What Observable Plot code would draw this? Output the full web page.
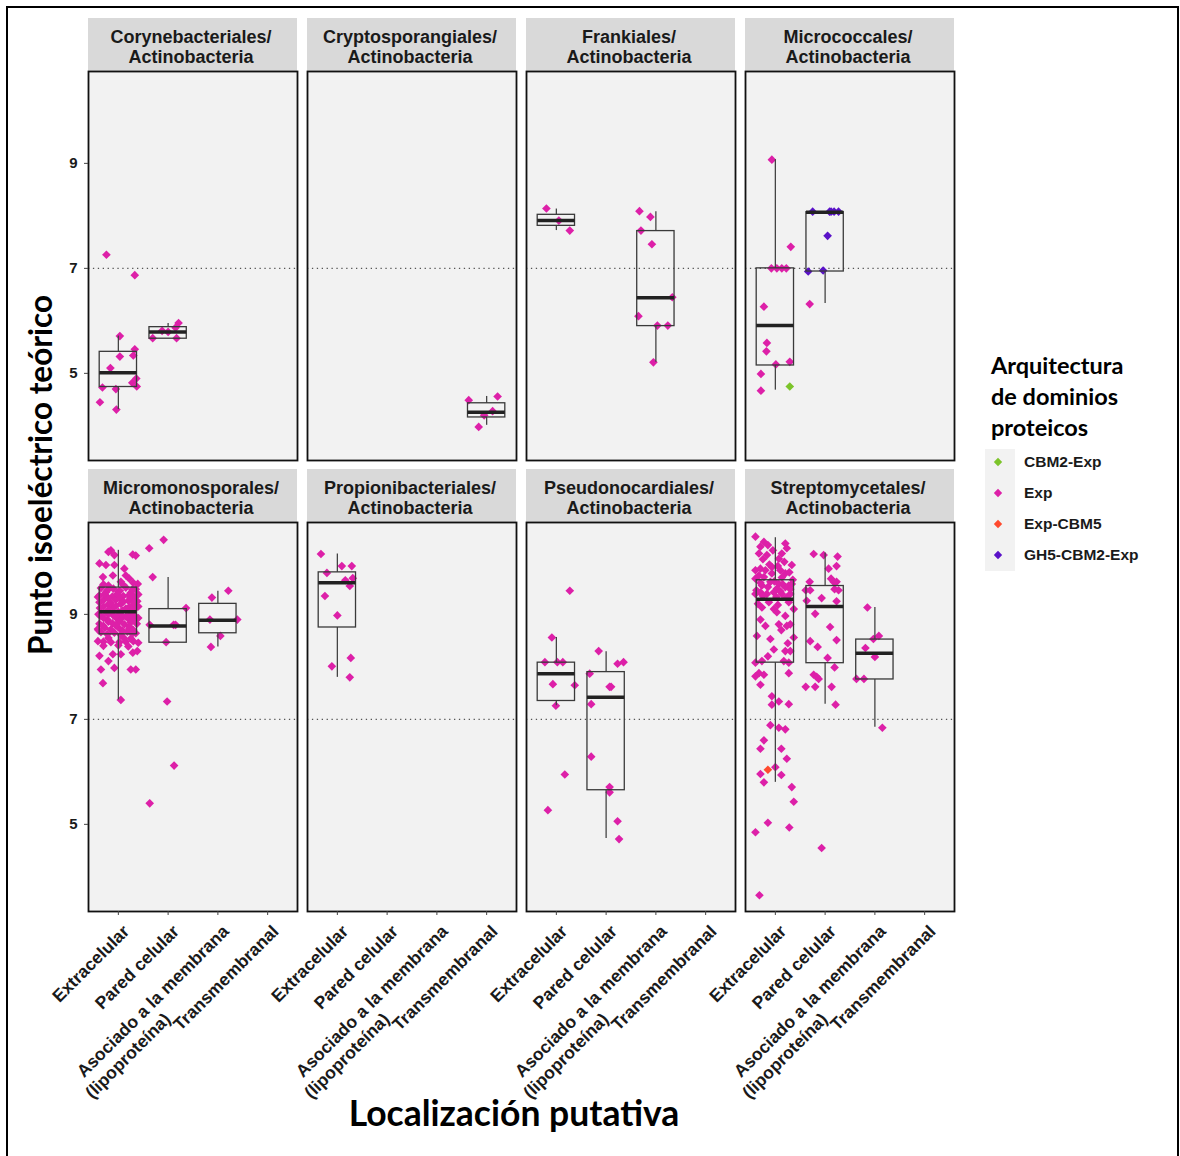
<!DOCTYPE html>
<html><head><meta charset="utf-8">
<script src="https://cdn.jsdelivr.net/npm/d3@7"></script>
<script src="https://cdn.jsdelivr.net/npm/@observablehq/plot@0.6"></script>
<style>
body{margin:0;background:#fff;}
#wrap{position:relative;width:1180px;height:1156px;overflow:hidden;background:#fff;}
#chart{position:absolute;left:0;top:0;}
#frame{position:absolute;left:6px;top:6px;width:1173px;height:1170px;border:2px solid #000;box-sizing:border-box;pointer-events:none;}
.ttl{position:absolute;font-family:Lato,'Open Sans',sans-serif;font-weight:bold;color:#000;white-space:nowrap;}
#ytitle{left:40px;top:475px;font-size:31.5px;transform:translate(-50%,-50%) rotate(-90deg);}
#xtitle{left:514px;top:1112px;font-size:35.5px;transform:translate(-50%,-50%);}
#legtitle{left:991px;top:350px;font-size:23.5px;line-height:31px;}
#legkeys{position:absolute;left:985px;top:449px;width:30px;height:122px;background:#f2f2f2;}
.legitem{position:absolute;left:1024px;font-family:'Liberation Sans',Arial,sans-serif;font-weight:bold;font-size:15.5px;color:#1a1a1a;transform:translateY(-50%);white-space:nowrap;}
.legsym{position:absolute;left:993px;}
</style></head>
<body><div id="wrap"><div id="chart"></div>
<div id="ytitle" class="ttl">Punto isoeléctrico teórico</div>
<div id="xtitle" class="ttl">Localización putativa</div>
<div id="legtitle" class="ttl">Arquitectura<br>de dominios<br>proteicos</div>
<div id="legkeys"></div>
<div id="legend"></div>
<div id="frame"></div>
</div>
<script>
// ---------------- data ----------------
const orders = ["Corynebacteriales","Cryptosporangiales","Frankiales","Micrococcales",
                "Micromonosporales","Propionibacteriales","Pseudonocardiales","Streptomycetales"];
const phylum = "Actinobacteria";
const locations = ["Extracelular","Pared celular","Asociado a la membrana\n(lipoproteína)","Transmembranal"];
const architectures = ["CBM2-Exp","Exp","Exp-CBM5","GH5-CBM2-Exp"];
const archColors = ["#7cc42a","#dd20a8","#ff4a2e","#5a12c8"];
const yTicks = [5, 7, 9];
const neutralPI = 7;

// points: [location index (1-4), pI, jitter offset, architecture index (default 1 = Exp)]
const ptsCorynebacteriales = [
  [1,7.26,-0.24],[1,6.87,0.33],[1,5.71,0.03],[1,5.46,0.33],[1,5.32,0.03],[1,5.34,0.30],[1,5.10,-0.16],
  [1,4.73,-0.32],[1,4.70,-0.05],[1,4.90,0.36],[1,4.82,0.28],[1,4.75,0.37],[1,4.45,-0.37],[1,4.31,-0.04],
  [2,5.67,-0.31],[2,5.81,-0.12],[2,5.87,0.15],[2,5.96,0.21],[2,5.67,0.17],[2,5.79,0.0]
];
const ptsCryptosporangiales = [
  [4,4.49,-0.36],[4,4.56,0.22],[4,4.28,0.12],[4,3.98,-0.16],[4,4.20,-0.05]
];
const ptsFrankiales = [
  [1,8.14,-0.2],[1,7.72,0.27],[1,7.91,0.05],
  [3,8.09,-0.33],[3,7.98,-0.11],[3,7.72,-0.3],[3,7.46,-0.08],[3,6.45,0.33],[3,6.09,-0.35],
  [3,5.91,0.03],[3,5.91,0.24],[3,5.21,-0.05]
];
const ptsMicrococcales = [
  [1,9.07,-0.07],[1,7.41,0.31],[1,7.0,-0.08],[1,7.0,0.03],[1,7.0,0.13],[1,7.0,0.22],[1,6.27,-0.23],
  [1,5.58,-0.17],[1,5.42,-0.18],[1,5.17,0.01],[1,5.22,0.29],[1,4.99,-0.29],[1,4.67,-0.29],[1,4.75,0.29,0],
  [2,8.08,-0.25,3],[2,8.08,0.09,3],[2,8.08,0.12,3],[2,8.08,0.18,3],[2,8.08,0.27,3],[2,7.62,0.05,3],
  [2,6.94,-0.34,3],[2,6.96,-0.04,3],[2,6.32,-0.31]
];
const ptsMicromonosporales = [
  [1,10.22,-0.15],[1,10.19,-0.2],[1,10.13,-0.08],[1,9.97,-0.38],[1,9.94,-0.25],[1,9.94,-0.08],[1,10.14,0.29],
  [1,10.12,0.35],[1,9.87,0.12],[1,9.71,-0.31],[1,9.74,-0.11],[1,9.74,0.15],[1,9.68,0.22],[1,9.58,0.39],
  [1,9.62,0.05],[1,9.57,-0.3],[1,9.60,0.3],[1,9.33,-0.41],[1,9.55,-0.2],[1,9.56,0.1],
  [1,9.50,-0.35],[1,9.49,-0.1],[1,9.51,0.15],[1,9.48,0.35],[1,9.42,-0.25],[1,9.43,0.0],[1,9.41,0.25],
  [1,9.36,-0.38],[1,9.34,-0.12],[1,9.35,0.1],[1,9.33,0.32],[1,9.27,-0.3],[1,9.28,-0.05],[1,9.26,0.2],
  [1,9.25,0.38],[1,9.19,-0.2],[1,9.20,0.05],[1,9.18,0.3],[1,9.12,-0.37],[1,9.13,-0.1],[1,9.11,0.15],
  [1,9.12,0.35],[1,9.04,-0.25],[1,9.05,0.0],[1,9.03,0.25],[1,8.97,-0.35],[1,8.98,-0.1],[1,8.96,0.15],
  [1,8.97,0.33],[1,8.90,-0.22],[1,8.91,0.05],[1,8.89,0.28],[1,8.82,-0.38],[1,8.83,-0.12],[1,8.81,0.12],
  [1,8.82,0.37],[1,8.74,-0.27],[1,8.75,0.0],[1,8.73,0.22],[1,8.66,-0.35],[1,8.65,-0.08],[1,8.67,0.18],
  [1,8.64,0.35],
  [1,9.46,-0.22],[1,9.45,0.03],[1,9.47,0.28],[1,9.38,-0.28],[1,9.39,-0.02],[1,9.37,0.22],[1,9.38,0.4],
  [1,9.31,-0.2],[1,9.30,0.03],[1,9.32,0.24],[1,9.23,-0.38],[1,9.22,-0.15],[1,9.24,0.1],[1,9.23,0.3],
  [1,9.15,-0.3],[1,9.16,-0.05],[1,9.14,0.22],[1,9.15,0.4],[1,9.08,-0.2],[1,9.07,0.08],[1,9.09,0.27],
  [1,9.00,-0.4],[1,9.01,-0.2],[1,8.99,0.05],[1,9.00,0.25],[1,8.93,-0.3],[1,8.94,-0.05],[1,8.92,0.2],
  [1,8.93,0.4],[1,8.86,-0.2],[1,8.87,0.02],[1,8.85,0.25],[1,8.78,-0.3],[1,8.79,-0.05],[1,8.77,0.22],
  [1,8.70,-0.4],[1,8.71,-0.15],[1,8.69,0.08],[1,8.70,0.3],[1,8.62,-0.22],[1,8.61,0.05],[1,8.63,0.28],
  [1,8.72,-0.41],[1,8.49,-0.41],[1,8.48,-0.3],[1,8.47,-0.15],[1,8.47,0.02],[1,8.48,0.15],[1,8.49,0.3],
  [1,8.46,0.4],[1,8.55,-0.2],[1,8.56,0.1],[1,8.54,0.25],[1,8.40,-0.3],[1,8.41,0.0],[1,8.39,0.2],
  [1,8.21,-0.38],[1,8.24,-0.11],[1,8.24,0.05],[1,8.27,0.29],[1,8.30,0.38],[1,8.11,-0.2],
  [1,7.98,-0.08],[1,7.95,-0.35],[1,7.95,0.25],[1,7.95,0.35],[1,7.69,-0.31],[1,7.37,0.05],
  [2,10.42,-0.09],[2,10.26,-0.38],[2,9.71,-0.31],[2,9.12,0.36],[2,8.80,-0.37],[2,8.80,0.11],[2,8.80,0.15],
  [2,8.47,-0.04],[2,7.34,-0.02],[2,6.12,0.12],[2,5.40,-0.37],
  [3,9.32,-0.12],[3,9.45,0.21],[3,8.90,-0.16],[3,8.90,0.39],[3,8.59,0.05],[3,8.38,-0.14]
];
const ptsPropionibacteriales = [
  [1,10.15,-0.33],[1,9.92,0.09],[1,9.92,0.29],[1,9.79,-0.21],[1,9.65,0.16],[1,9.69,0.31],[1,9.54,0.25],
  [1,9.35,-0.25],[1,8.98,0.0],[1,8.17,0.27],[1,8.01,-0.11],[1,7.80,0.25]
];
const ptsPseudonocardiales = [
  [1,9.45,0.27],[1,8.56,-0.09],[1,8.09,-0.23],[1,8.09,0.02],[1,8.09,0.13],[1,7.67,-0.07],[1,7.65,0.37],
  [1,7.26,-0.01],[1,5.95,0.17],[1,5.27,-0.17],
  [2,8.30,-0.15],[2,8.06,0.23],[2,8.09,0.35],[2,7.87,-0.33],[2,7.62,0.07],[2,7.62,0.1],[2,7.29,-0.3],
  [2,6.29,-0.3],[2,5.71,0.07],[2,5.61,0.07],[2,5.06,0.23],[2,4.72,0.26]
];
const ptsStreptomycetales = [
  [1,10.48,-0.4],[1,10.38,-0.23],[1,10.29,-0.3],[1,10.32,-0.15],[1,10.35,0.2],[1,10.16,-0.33],[1,10.13,-0.17],
  [1,10.16,0.13],[1,10.26,0.23],[1,10.06,0.07],[1,9.94,0.33],[1,9.84,-0.4],[1,9.87,-0.3],[1,9.84,-0.2],
  [1,9.68,-0.4],[1,9.71,-0.23],[1,9.78,-0.07],[1,9.84,0.1],[1,9.78,0.2],[1,9.90,-0.07],[1,9.62,-0.1],
  [1,9.58,0.07],[1,9.55,0.27],[1,9.39,-0.4],[1,9.55,-0.27],[1,9.58,0.33],[1,9.52,0.2],[1,9.49,0.03],
  [1,9.42,-0.3],[1,9.39,-0.17],[1,9.42,-0.03],[1,9.39,0.13],[1,9.39,0.3],[1,9.23,-0.13],[1,9.23,0.27],
  [1,10.22,-0.05],[1,10.05,-0.25],[1,10.00,0.18],[1,9.95,-0.12],[1,9.92,0.05],[1,9.80,0.28],[1,9.74,-0.33],
  [1,9.70,0.13],[1,9.66,0.35],[1,9.63,-0.02],[1,9.60,-0.3],[1,9.57,0.15],[1,9.52,-0.15],[1,9.48,0.3],
  [1,9.46,-0.38],[1,9.44,0.1],[1,9.35,-0.25],[1,9.33,0.02],[1,9.32,0.22],[1,9.20,-0.35],[1,9.18,0.05],
  [1,9.13,-0.27],[1,9.10,-0.03],[1,8.97,0.2],[1,9.10,0.37],[1,9.04,0.03],[1,8.78,-0.2],[1,8.81,0.07],
  [1,8.78,0.23],[1,8.81,0.3],[1,8.59,-0.37],[1,8.53,-0.1],[1,8.56,0.37],[1,8.33,-0.03],[1,8.30,0.2],
  [1,8.30,0.3],[1,8.08,-0.4],[1,8.11,-0.27],[1,8.11,0.17],[1,8.08,0.27],[1,8.90,-0.3],[1,8.70,0.12],
  [1,8.45,0.25],[1,8.20,-0.15],
  [1,7.88,-0.33],[1,7.82,-0.4],[1,7.85,-0.23],[1,7.88,0.27],[1,7.66,-0.3],[1,7.44,-0.07],[1,7.34,0.07],
  [1,7.29,0.27],[1,7.28,-0.07],[1,6.89,-0.1],[1,6.84,0.07],[1,6.81,0.2],[1,6.60,-0.23],[1,6.44,-0.3],
  [1,6.44,0.12],[1,6.25,0.23],[1,5.96,-0.3],[1,6.04,-0.15,2],[1,6.09,0.0],[1,5.94,0.12],[1,5.80,-0.23],
  [1,5.71,0.33],[1,5.43,0.37],[1,5.03,-0.15],[1,4.94,0.28],[1,4.85,-0.4],[1,3.65,-0.32],
  [2,10.15,-0.23],[2,10.13,-0.03],[2,10.10,0.25],[2,9.92,0.23],[2,9.87,0.07],[2,9.68,0.12],[2,9.62,0.17],
  [2,9.62,0.23],[2,9.48,0.19],[2,9.46,0.27],[2,9.62,-0.31],[2,9.46,-0.39],[2,9.46,-0.3],[2,9.26,-0.37],
  [2,9.31,-0.07],[2,9.25,0.23],[2,9.01,-0.2],[2,8.76,0.1],[2,8.51,0.23],[2,8.49,-0.3],[2,8.38,-0.15],
  [2,8.17,0.05],[2,7.99,0.19],[2,7.85,-0.23],[2,7.81,-0.17],[2,7.77,-0.13],[2,7.62,-0.39],[2,7.62,-0.2],
  [2,7.62,0.13],[2,7.28,0.21],[2,4.55,-0.07],
  [3,9.13,-0.15],[3,8.59,0.08],[3,8.53,-0.03],[3,8.36,-0.19],[3,8.19,0.0],[3,7.77,-0.37],[3,7.77,-0.22],
  [3,6.84,0.15]
];
// box statistics: [order, location index, lower whisker, Q1, median, Q3, upper whisker]
const boxStats = [
  ["Corynebacteriales",1,4.31,4.74,5.01,5.41,5.71],
  ["Corynebacteriales",2,5.66,5.66,5.79,5.88,5.95],
  ["Cryptosporangiales",4,4.01,4.16,4.26,4.43,4.56],
  ["Frankiales",1,7.72,7.81,7.91,8.02,8.13],
  ["Frankiales",3,5.21,5.90,6.44,7.71,8.08],
  ["Micrococcales",1,4.68,5.15,5.91,7.00,9.07],
  ["Micrococcales",2,6.33,6.94,8.07,8.07,8.07],
  ["Micromonosporales",1,7.37,8.62,9.05,9.51,10.22],
  ["Micromonosporales",2,8.46,8.46,8.78,9.10,9.70],
  ["Micromonosporales",3,8.38,8.64,8.89,9.20,9.44],
  ["Propionibacteriales",1,7.80,8.75,9.60,9.80,10.15],
  ["Pseudonocardiales",1,7.26,7.35,7.87,8.08,8.56],
  ["Pseudonocardiales",2,4.73,5.65,7.42,7.90,8.29],
  ["Streptomycetales",1,5.80,8.08,9.29,9.65,10.46],
  ["Streptomycetales",2,7.29,8.07,9.15,9.54,10.17],
  ["Streptomycetales",3,6.85,7.76,8.26,8.52,9.13]
];
const pointSets = {
  Corynebacteriales: ptsCorynebacteriales, Cryptosporangiales: ptsCryptosporangiales,
  Frankiales: ptsFrankiales, Micrococcales: ptsMicrococcales, Micromonosporales: ptsMicromonosporales,
  Propionibacteriales: ptsPropionibacteriales, Pseudonocardiales: ptsPseudonocardiales,
  Streptomycetales: ptsStreptomycetales
};

// ---------------- tables ----------------
const facetOf = o => { const i = orders.indexOf(o); return {col: i % 4, row: Math.floor(i / 4)}; };
const points = [];
for (const o of orders) for (const p of pointSets[o])
  points.push({...facetOf(o), x: p[0] + p[2], pI: p[1], arch: architectures[p.length > 3 ? p[3] : 1]});
const boxes = boxStats.map(([o, loc, lo, q1, med, q3, hi]) => ({...facetOf(o), loc, lo, q1, med, q3, hi}));
const strips = orders.map(o => ({...facetOf(o), label: `${o}/\n${phylum}`}));
const line1 = [], line2 = [];
for (let c = 0; c < 4; c++) locations.forEach((loc, k) => {
  const parts = loc.split("\n");
  line1.push({col: c, row: 1, x: k + 1, text: parts[0]});
  if (parts[1]) line2.push({col: c, row: 1, x: k + 1, text: parts[1], first: parts[0]});
});

const yMin = 3.34, yMax = 10.75, halfBox = 0.375;
const tickSize = 17.5;
const ctx = document.createElement("canvas").getContext("2d");
ctx.font = `bold ${tickSize}px 'Liberation Sans'`;
const dx0 = 8, dy0 = 17, lineGap = 21, back = 9;
const L1 = line2.length ? ctx.measureText(line2[0].first).width : 0;
const L2 = line2.length ? ctx.measureText(line2[0].text).width : 0;
const c45 = Math.SQRT1_2;
const dx2 = dx0 - (L1 - L2 + back) * c45 + lineGap * c45;
const dy2 = dy0 + (L1 - L2 + back) * c45 + lineGap * c45;

const fc = {fx: "col", fy: "row"};
const chart = Plot.plot({
  width: 960, height: 1100,
  marginLeft: 87, marginRight: 6, marginTop: 71, marginBottom: 188,
  style: {fontFamily: "'Liberation Sans', Arial, sans-serif", fontWeight: "bold", color: "#1a1a1a", background: "transparent", overflow: "visible"},
  fx: {domain: [0, 1, 2, 3], axis: null, paddingInner: 0.047, paddingOuter: 0},
  fy: {domain: [0, 1], axis: null, paddingInner: 0.137, paddingOuter: 0},
  x: {domain: [0.4, 4.6]},
  y: {domain: [yMin, yMax]},
  color: {domain: architectures, range: archColors},
  marks: [
    Plot.frame({fill: "#f2f2f2"}),
    Plot.rect(strips, {...fc, y1: yMax, y2: yMax, insetTop: -53, fill: "#d9d9d9"}),
    Plot.text(strips, {...fc, text: "label", frameAnchor: "top", dy: -25, dx: -2, lineAnchor: "middle", lineHeight: 1.12, fontSize: 18, fill: "#1a1a1a"}),
    Plot.ruleY([neutralPI], {stroke: "#555", strokeWidth: 1.3, strokeDasharray: "1.3,3.6"}),
    Plot.dot(points, {...fc, x: "x", y: "pI", symbol: "diamond2", fill: "arch", stroke: "none", r: 3.9}),
    Plot.ruleX(boxes, {...fc, x: "loc", y1: "lo", y2: "q1", stroke: "#444", strokeWidth: 1.3}),
    Plot.ruleX(boxes, {...fc, x: "loc", y1: "q3", y2: "hi", stroke: "#444", strokeWidth: 1.3}),
    Plot.rect(boxes, {...fc, x1: d => d.loc - halfBox, x2: d => d.loc + halfBox, y1: "q1", y2: "q3", fill: "none", stroke: "#3a3a3a", strokeWidth: 1.3}),
    Plot.ruleY(boxes, {...fc, y: "med", x1: d => d.loc - halfBox, x2: d => d.loc + halfBox, stroke: "#222", strokeWidth: 3.5}),
    Plot.frame({stroke: "#111", strokeWidth: 1.8}),
    Plot.axisY({ticks: yTicks, tickSize: 4, tickPadding: 7, fontSize: 15, label: null, stroke: "#444"}),
    Plot.axisX({ticks: [1, 2, 3, 4], tickFormat: () => "", tickSize: 4, label: null, stroke: "#444"}),
    Plot.text(line1, {...fc, x: "x", text: "text", frameAnchor: "bottom", rotate: -45, textAnchor: "end", lineAnchor: "middle", dx: dx0, dy: dy0, fontSize: tickSize, fill: "#1a1a1a"}),
    Plot.text(line2, {...fc, x: "x", text: "text", frameAnchor: "bottom", rotate: -45, textAnchor: "end", lineAnchor: "middle", dx: dx2, dy: dy2, fontSize: tickSize, fill: "#1a1a1a"})
  ]
});
document.getElementById("chart").appendChild(chart);

// legend
const leg = document.getElementById("legend");
architectures.forEach((a, i) => {
  const cy = 462 + i * 31;
  const s = document.createElementNS("http://www.w3.org/2000/svg", "svg");
  s.setAttribute("width", 10); s.setAttribute("height", 10);
  s.setAttribute("class", "legsym");
  s.style.top = (cy - 5) + "px";
  s.innerHTML = `<polygon points="5,0.8 9.2,5 5,9.2 0.8,5" fill="${archColors[i]}"/>`;
  leg.appendChild(s);
  const t = document.createElement("div");
  t.className = "legitem"; t.style.top = cy + "px"; t.textContent = a;
  leg.appendChild(t);
});
</script>
</body></html>
